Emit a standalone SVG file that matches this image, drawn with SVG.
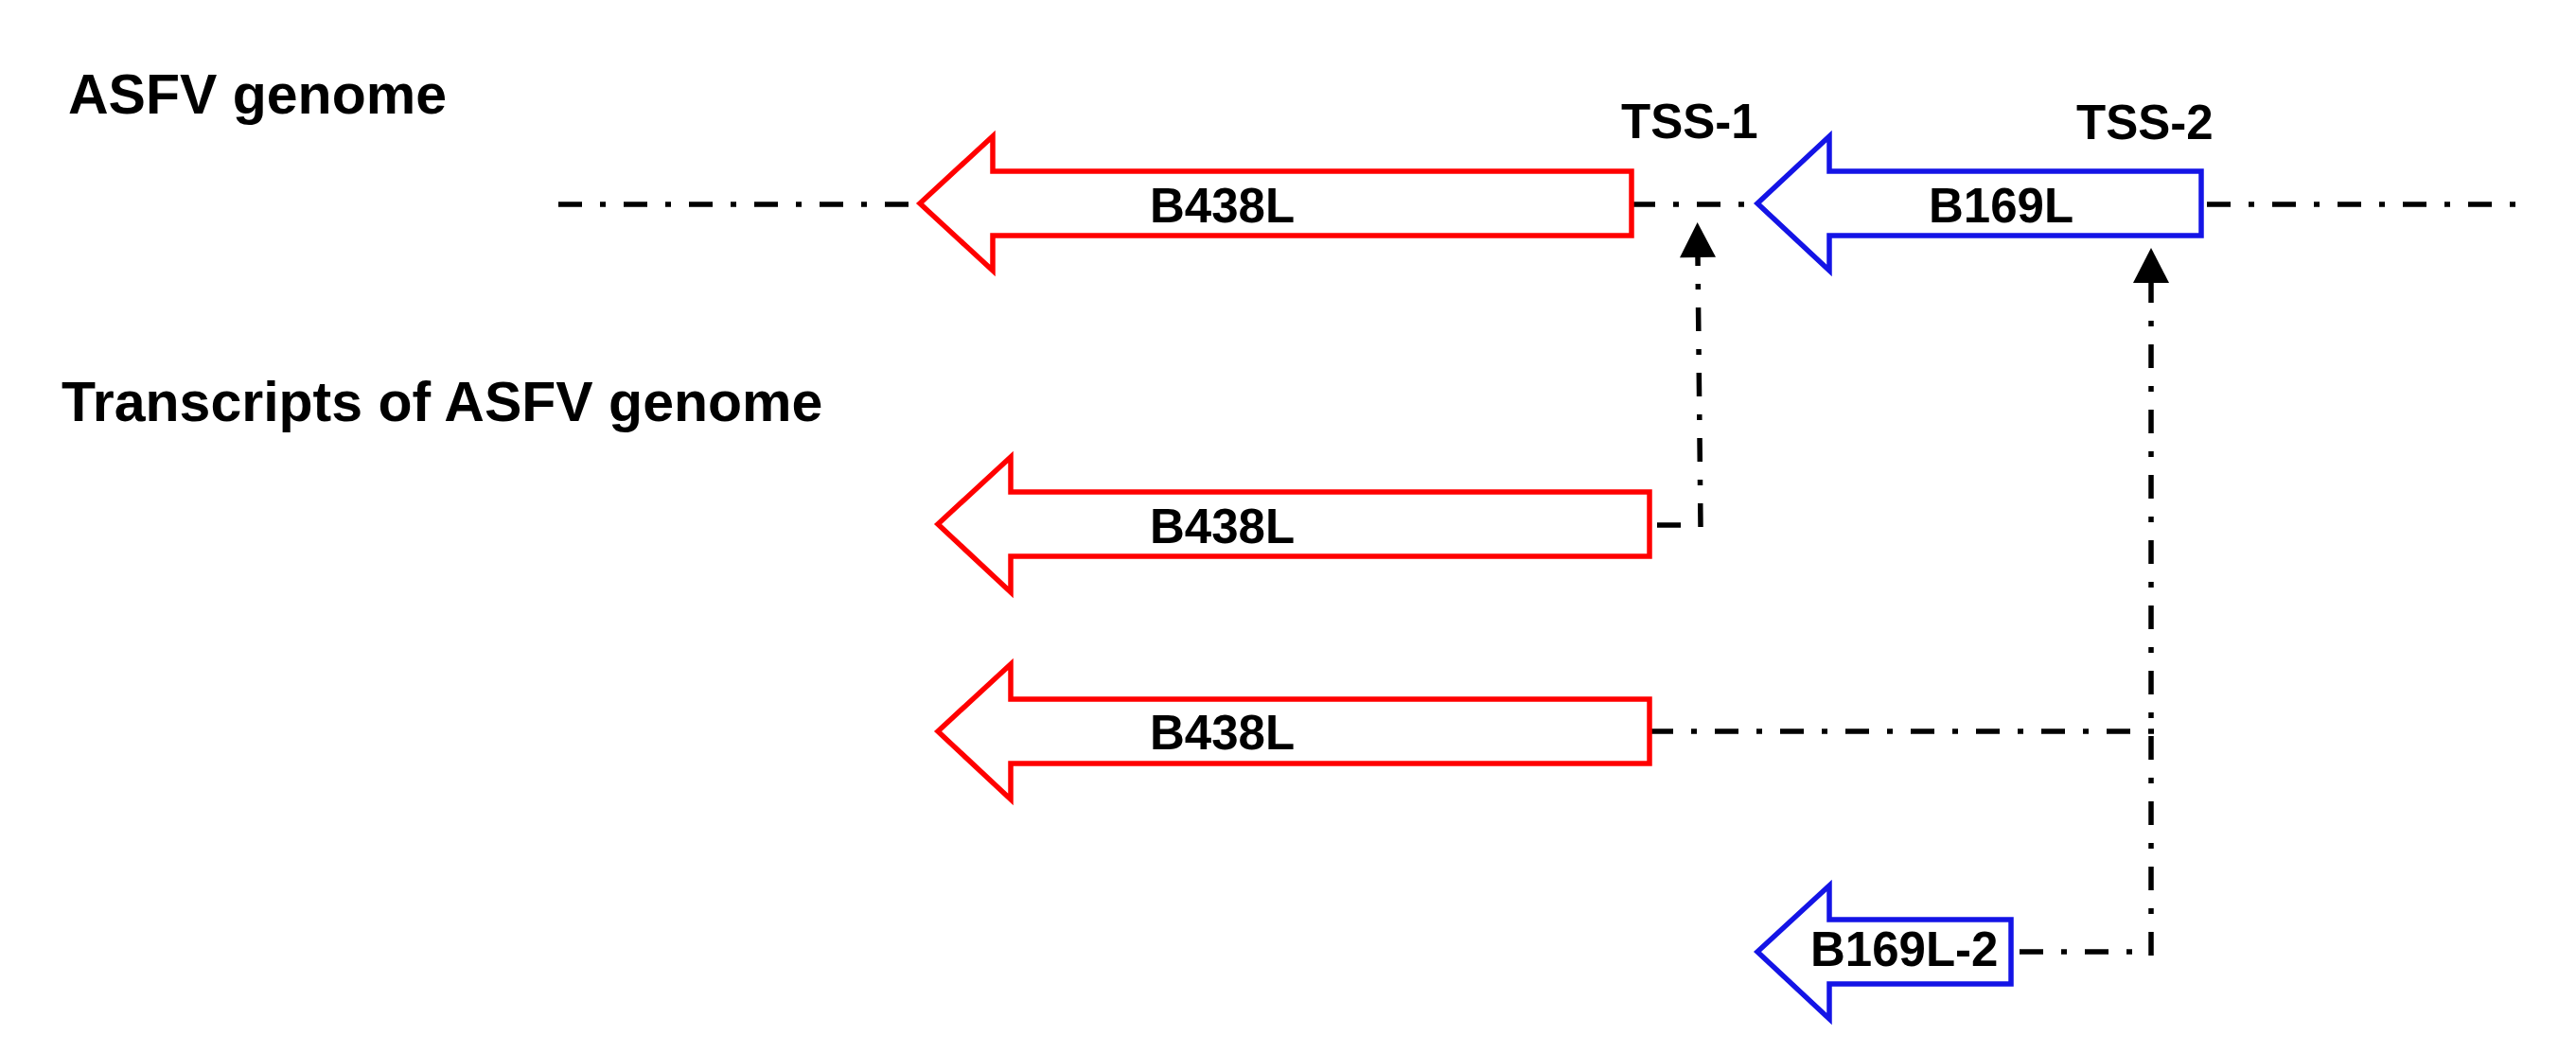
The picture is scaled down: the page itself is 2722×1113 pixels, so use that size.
<svg xmlns="http://www.w3.org/2000/svg" width="2722" height="1113" viewBox="0 0 2722 1113">
  <style>
    .t { font-family: "Liberation Sans", Arial, sans-serif; font-weight: bold; fill: #000; }
    .head { font-size: 59px; }
    .lbl { font-size: 51px; }
    .red { fill: #fff; stroke: #FF0000; stroke-width: 5.5; }
    .blue { fill: #fff; stroke: #1414E6; stroke-width: 5.5; }
    .dd { fill: none; stroke: #000; stroke-width: 5.5; stroke-dasharray: 25 19 6 19; stroke-linecap: butt; }
  </style>
  <defs>
    <marker id="ah" markerUnits="userSpaceOnUse" markerWidth="40" markerHeight="40" refX="0" refY="19" orient="auto" overflow="visible">
      <path d="M0,0 L37,19 L0,38 Z" fill="#000"/>
    </marker>
  </defs>
  <rect width="2722" height="1113" fill="#fff"/>

  <g id="title-genome">
    <text class="t head" x="72" y="120">ASFV genome</text>
  </g>
  <g id="title-transcripts">
    <text class="t head" x="65" y="445">Transcripts of ASFV genome</text>
  </g>
  <g id="tss1-label">
    <text class="t lbl" x="1713" y="146">TSS-1</text>
  </g>
  <g id="tss2-label">
    <text class="t lbl" x="2194" y="147">TSS-2</text>
  </g>

  <g id="connectors">
    <line class="dd" x1="590" y1="216" x2="961" y2="216"/>
    <line class="dd" x1="1724" y1="216" x2="1843" y2="216"/>
    <line class="dd" x1="2332" y1="216" x2="2658" y2="216"/>
    <line class="dd" x1="1751" y1="555" x2="1776" y2="555"/>
    <line class="dd" x1="1797" y1="557" x2="1794" y2="272" marker-end="url(#ah)"/>
    <line class="dd" x1="1743" y1="773" x2="2276" y2="773"/>
    <line class="dd" x1="2134" y1="1006" x2="2271" y2="1006"/>
    <line class="dd" x1="2273" y1="1010" x2="2273" y2="299" marker-end="url(#ah)"/>
  </g>

  <g id="genome-B438L">
    <polygon class="red" points="972,215 1049,144 1049,181 1724,181 1724,249 1049,249 1049,286"/>
    <text class="t lbl" x="1215" y="235">B438L</text>
  </g>
  <g id="genome-B169L">
    <polygon class="blue" points="1857,215 1933,144 1933,181 2326,181 2326,249 1933,249 1933,286"/>
    <text class="t lbl" x="2038" y="235">B169L</text>
  </g>
  <g id="transcript-B438L-1">
    <polygon class="red" points="991,554 1068,483 1068,520 1743,520 1743,588 1068,588 1068,626"/>
    <text class="t lbl" x="1215" y="574">B438L</text>
  </g>
  <g id="transcript-B438L-2">
    <polygon class="red" points="991,773 1068,702 1068,739 1743,739 1743,807 1068,807 1068,845"/>
    <text class="t lbl" x="1215" y="792">B438L</text>
  </g>
  <g id="transcript-B169L-2">
    <polygon class="blue" points="1857,1006 1933,936 1933,972 2125,972 2125,1040 1933,1040 1933,1077"/>
    <text class="t lbl" x="1913" y="1021">B169L-2</text>
  </g>
</svg>
